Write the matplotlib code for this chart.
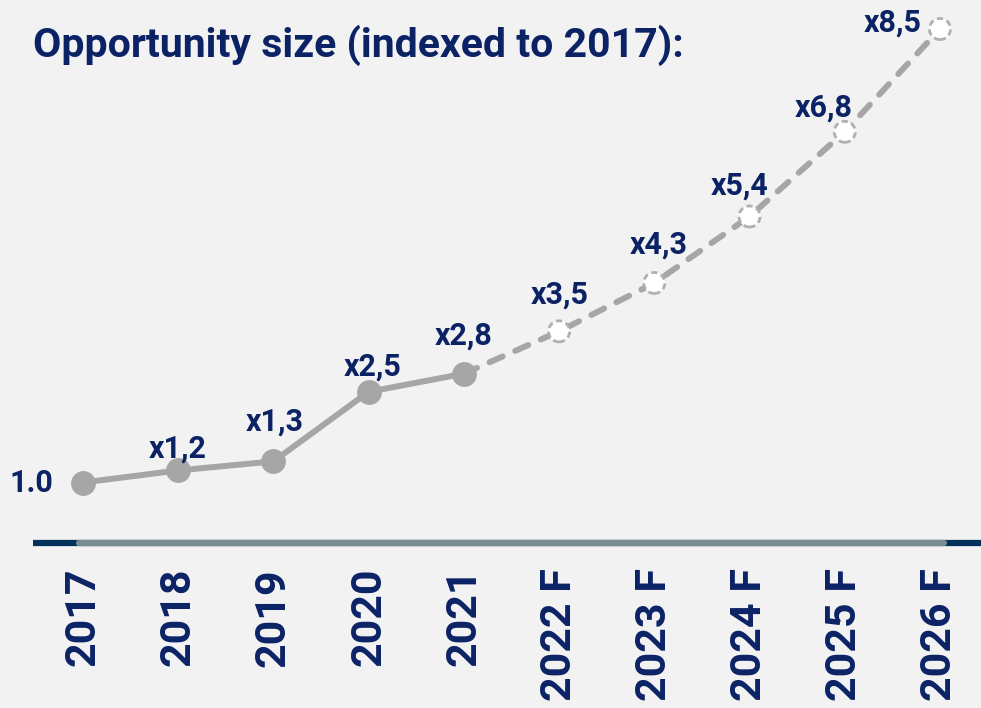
import matplotlib
matplotlib.use("Agg")
import matplotlib.pyplot as plt

years = ["2017", "2018", "2019", "2020", "2021", "2022 F", "2023 F", "2024 F", "2025 F", "2026 F"]
values = [1.0, 1.2, 1.35, 2.5, 2.8, 3.5, 4.3, 5.4, 6.8, 8.5]
labels = ["1.0", "x1,2", "x1,3", "x2,5", "x2,8", "x3,5", "x4,3", "x5,4", "x6,8", "x8,5"]
n_actual = 5  # 2017-2021 are actuals, rest forecast

BG = "#f2f2f2"
NAVY = "#0b2265"
GREY = "#a6a6a6"
AXIS_NAVY = "#03305a"
AXIS_GREY = "#7a8b94"

plt.rcParams["font.family"] = ["Roboto", "DejaVu Sans"]

fig = plt.figure(figsize=(9.81, 7.08), dpi=100, facecolor=BG)
ax = fig.add_axes([0, 0, 1, 1], facecolor=BG)
ax.set_xlim(-0.8717, 9.431)
ax.set_ylim(-2.729, 8.98)
for s in ax.spines.values():
    s.set_visible(False)
ax.set_yticks([])
ax.set_xticks([])

x = list(range(len(years)))

# baseline axis
ax.plot([-0.52, 9.6], [0, 0], color=AXIS_NAVY, lw=4.5, solid_capstyle="butt", zorder=1)
ax.plot([-0.04, 9.04], [0, 0], color=AXIS_GREY, lw=4.5, solid_capstyle="round", zorder=2)

# actual line
ax.plot(x[:n_actual], values[:n_actual], color=GREY, lw=4.3, solid_capstyle="round", zorder=3)
# forecast dashed line
fl, = ax.plot(x[n_actual - 1:], values[n_actual - 1:], color=GREY, lw=4.3,
              dash_capstyle="round", zorder=3)
fl.set_dashes([2.4, 2.3])

# markers
ax.scatter(x[:n_actual], values[:n_actual], s=320, color=GREY, zorder=4, linewidths=0)
ax.scatter(x[n_actual:], values[n_actual:], s=230, facecolor="white", edgecolor="#b0b0b0",
           linewidths=2.0, linestyles=(0, (2.2, 1.4)), zorder=4)

# value labels: offsets in pixels (dx, baseline above point)
offsets_px = [(-30, 0), (-1, 13), (1, 31), (4, 16), (0, 29), (1, 28), (4, 29), (-10, 22), (-21, 15), (-47, -3)]
for xi, v, lab, (dx, dy) in zip(x, values, labels, offsets_px):
    if xi == 0:
        ax.annotate(lab, (xi, v), xytext=(dx * 0.72, 0), textcoords="offset points",
                    ha="right", va="center", fontsize=22, fontweight="bold", color=NAVY, zorder=5)
    else:
        ax.annotate(lab, (xi, v), xytext=(dx * 0.72, dy * 0.72), textcoords="offset points",
                    ha="center", va="baseline", fontsize=22, fontweight="bold", color=NAVY, zorder=5)

# category labels below the axis line
for xi, yr in zip(x, years):
    ax.annotate(yr, (xi, 0), xytext=(0, -18), textcoords="offset points",
                ha="center", va="top", rotation=90, fontsize=31, fontweight="bold", color=NAVY)

fig.text(33 / 981, 1 - 45 / 708, "Opportunity size (indexed to 2017):", ha="left", va="center",
         fontsize=29.5, fontweight="bold", color=NAVY)

fig.savefig("out.png", dpi=100, facecolor=BG)
